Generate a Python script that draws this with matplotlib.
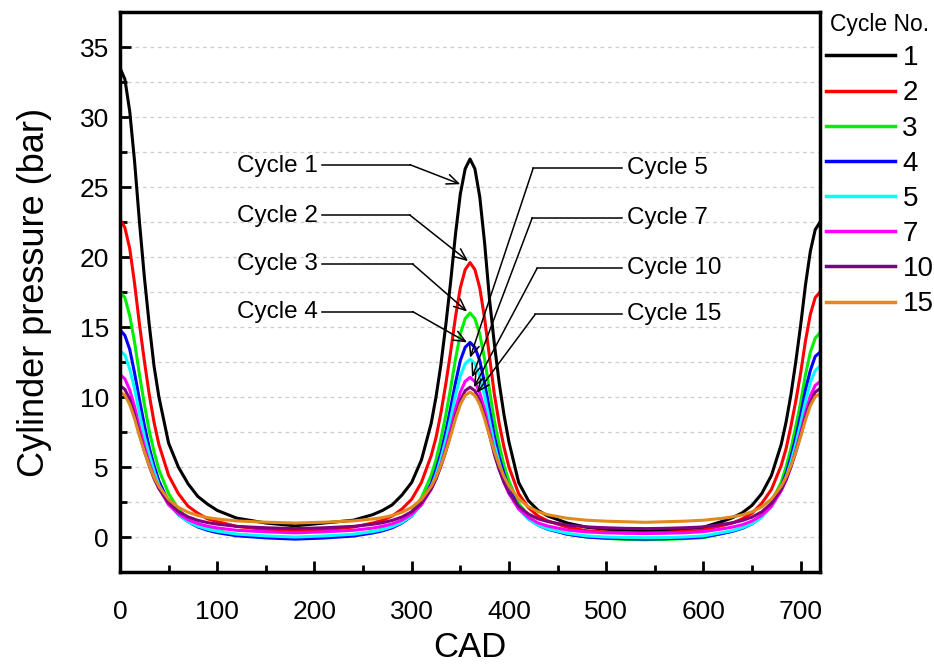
import matplotlib
matplotlib.use("Agg")
import matplotlib.pyplot as plt
from matplotlib.ticker import MultipleLocator

plt.rcParams["font.family"] = ["Liberation Sans", "DejaVu Sans"]

# crank angle (deg) and cylinder pressure (bar)
cad = [0, 5, 10, 15, 20, 25, 30, 35, 40, 50, 60, 70, 80, 90, 100, 120, 150, 180,
       210, 240, 260, 270, 280, 290, 300, 310, 320, 325, 330, 335, 340, 345, 350, 355, 360,
       365, 370, 375, 380, 385, 390, 395, 400, 410, 420, 430, 440, 460, 480, 500, 520, 540,
       560, 580, 600, 620, 630, 640, 650, 660, 670, 680, 685, 690, 695, 700, 705, 710, 715, 720]

p_cycle1 = [33.5, 32.7, 30.4, 26.8, 22.5, 18.6, 15.2, 12.2, 10.0, 6.7, 5.0, 3.8, 2.9, 2.35, 1.9, 1.35, 1.0, 0.8,
            1.0, 1.2, 1.6, 1.9, 2.3, 3.0, 3.9, 5.5, 8.1, 10.0, 12.3, 15.1, 18.2, 21.6, 24.5, 26.3, 27.0,
            26.3, 24.3, 21.0, 17.0, 13.8, 11.0, 8.7, 6.8, 3.9, 2.6, 1.9, 1.5, 1.0, 0.7, 0.55, 0.5, 0.45,
            0.5, 0.55, 0.7, 1.13, 1.38, 1.73, 2.26, 3.1, 4.4, 6.6, 8.2, 10.15, 12.5, 15.1, 18.0, 20.4, 21.95, 22.5]
p_cycle2 = [22.7, 22.1, 20.6, 18.1, 15.2, 12.6, 10.2, 8.2, 6.6, 4.4, 3.1, 2.2, 1.7, 1.3, 1.1, 0.76, 0.53, 0.4,
            0.52, 0.71, 1.0, 1.2, 1.5, 2.0, 2.7, 3.9, 5.8, 7.1, 8.85, 10.9, 13.2, 15.7, 17.8, 19.1, 19.6,
            19.1, 17.8, 15.6, 12.9, 10.2, 8.1, 6.4, 5.0, 3.1, 2.1, 1.5, 1.15, 0.7, 0.45, 0.35, 0.3, 0.3,
            0.32, 0.4, 0.5, 0.83, 1.0, 1.3, 1.7, 2.4, 3.4, 5.1, 6.3, 7.9, 9.7, 11.7, 14.0, 15.9, 17.1, 17.5]
p_cycle3 = [17.5, 17.1, 15.8, 13.9, 11.6, 9.5, 7.6, 6.1, 4.8, 3.1, 2.0, 1.3, 0.9, 0.64, 0.45, 0.18, 0.0, -0.1,
            0.0, 0.16, 0.4, 0.58, 0.83, 1.2, 1.8, 2.8, 4.4, 5.5, 7.0, 8.7, 10.6, 12.7, 14.5, 15.6, 16.0,
            15.6, 14.5, 12.7, 10.5, 8.3, 6.6, 5.1, 4.0, 2.4, 1.5, 0.95, 0.62, 0.2, 0.0, -0.1, -0.17, -0.2,
            -0.17, -0.12, -0.05, 0.26, 0.42, 0.66, 1.0, 1.6, 2.5, 3.9, 5.0, 6.3, 7.9, 9.6, 11.6, 13.2, 14.2, 14.6]
p_cycle4 = [14.8, 14.4, 13.4, 11.7, 9.8, 8.0, 6.4, 5.1, 4.0, 2.5, 1.6, 1.1, 0.72, 0.48, 0.31, 0.09, -0.06, -0.15,
            -0.07, 0.07, 0.29, 0.44, 0.66, 1.0, 1.5, 2.4, 3.8, 4.8, 6.0, 7.5, 9.2, 11.0, 12.6, 13.55, 13.9,
            13.55, 12.6, 11.0, 9.1, 7.2, 5.7, 4.5, 3.5, 2.1, 1.3, 0.85, 0.55, 0.2, 0.0, -0.08, -0.12, -0.15,
            -0.12, -0.08, 0.0, 0.26, 0.41, 0.62, 0.94, 1.45, 2.25, 3.6, 4.5, 5.7, 7.1, 8.7, 10.5, 11.9, 12.9, 13.2]
p_cycle5 = [13.3, 13.0, 12.0, 10.6, 8.8, 7.2, 5.9, 4.7, 3.7, 2.4, 1.6, 1.1, 0.77, 0.56, 0.41, 0.21, 0.08, 0.0,
            0.08, 0.2, 0.39, 0.53, 0.74, 1.04, 1.52, 2.29, 3.56, 4.45, 5.59, 6.92, 8.45, 10.1, 11.49, 12.38, 12.7,
            12.4, 11.5, 10.1, 8.3, 6.6, 5.3, 4.1, 3.2, 2.0, 1.3, 0.85, 0.58, 0.26, 0.08, 0.0, -0.03, -0.05,
            -0.04, 0.0, 0.08, 0.33, 0.46, 0.66, 0.95, 1.42, 2.16, 3.38, 4.24, 5.34, 6.63, 8.1, 9.69, 11.04, 11.89, 12.2]
p_cycle7 = [11.6, 11.3, 10.5, 9.3, 7.8, 6.5, 5.3, 4.3, 3.5, 2.3, 1.66, 1.23, 0.96, 0.77, 0.65, 0.48, 0.37, 0.3,
            0.37, 0.48, 0.64, 0.77, 0.94, 1.21, 1.63, 2.3, 3.41, 4.19, 5.18, 6.35, 7.68, 9.12, 10.35, 11.12, 11.4,
            11.1, 10.3, 9.1, 7.6, 6.1, 4.9, 3.9, 3.1, 2.0, 1.4, 1.0, 0.78, 0.5, 0.36, 0.3, 0.27, 0.25,
            0.27, 0.3, 0.38, 0.59, 0.71, 0.88, 1.14, 1.55, 2.2, 3.29, 4.05, 5.02, 6.16, 7.47, 8.88, 10.07, 10.83, 11.1]
p_cycle10 = [10.8, 10.55, 9.83, 8.71, 7.38, 6.16, 5.09, 4.17, 3.46, 2.44, 1.82, 1.44, 1.19, 1.03, 0.92, 0.76, 0.66, 0.6,
             0.66, 0.76, 0.91, 1.02, 1.19, 1.43, 1.81, 2.42, 3.43, 4.14, 5.04, 6.1, 7.32, 8.63, 9.74, 10.45, 10.7,
             10.45, 9.74, 8.63, 7.3, 5.9, 4.8, 3.9, 3.2, 2.2, 1.65, 1.3, 1.1, 0.85, 0.72, 0.66, 0.62, 0.6,
             0.62, 0.66, 0.72, 0.91, 1.02, 1.18, 1.42, 1.8, 2.4, 3.4, 4.1, 5.0, 6.05, 7.25, 8.55, 9.65, 10.35, 10.6]
p_cycle15 = [10.35, 10.12, 9.46, 8.43, 7.22, 6.1, 5.11, 4.27, 3.62, 2.68, 2.12, 1.77, 1.54, 1.39, 1.29, 1.15, 1.06, 1.0,
             1.06, 1.15, 1.29, 1.39, 1.54, 1.77, 2.12, 2.68, 3.62, 4.27, 5.11, 6.1, 7.22, 8.43, 9.46, 10.12, 10.35,
             10.12, 9.47, 8.44, 7.23, 6.12, 5.14, 4.31, 3.65, 2.72, 2.17, 1.81, 1.59, 1.34, 1.2, 1.13, 1.09, 1.05,
             1.09, 1.13, 1.2, 1.34, 1.44, 1.58, 1.8, 2.15, 2.71, 3.63, 4.27, 5.1, 6.06, 7.17, 8.36, 9.38, 10.02, 10.25]

cycle_labels = ["1", "2", "3", "4", "5", "7", "10", "15"]
pressures = [p_cycle1, p_cycle2, p_cycle3, p_cycle4, p_cycle5, p_cycle7, p_cycle10, p_cycle15]
colors = ["black", "#ff0000", "#00ee00", "#0000ff", "#00ffff", "#ff00ff", "#800080", "#e08a1e"]

fig = plt.figure(figsize=(9.34, 6.67), dpi=100)
ax = fig.add_axes([0.1285, 0.1424, 0.7495, 0.8396])

for p, c, lbl in zip(pressures, colors, cycle_labels):
    ax.plot(cad, p, color=c, lw=2.2, label=lbl)

ax.set_xlim(0, 720)
ax.set_ylim(-2.5, 37.5)
ax.xaxis.set_major_locator(MultipleLocator(100))
ax.xaxis.set_minor_locator(MultipleLocator(50))
ax.yaxis.set_major_locator(MultipleLocator(5))
ax.yaxis.set_minor_locator(MultipleLocator(2.5))
ax.tick_params(which="both", direction="in", top=False, right=False, width=2)
ax.tick_params(which="major", length=8, labelsize=19)
ax.tick_params(which="minor", length=5)
ax.tick_params(axis="x", pad=20)
ax.tick_params(axis="y", pad=8)
ax.grid(axis="y", which="both", ls=(0, (3, 3)), color="#cccccc", lw=0.9)
ax.set_axisbelow(True)
for s in ax.spines.values():
    s.set_linewidth(2.5)

ax.set_xlabel("CAD", fontsize=25)
ax.set_ylabel("Cylinder pressure (bar)", fontsize=26)
ax.xaxis.set_label_coords(0.5, -0.106)
ax.yaxis.set_label_coords(-0.097, 0.5)

# callouts: label text, text anchor, elbow of leader, arrow tip
left_notes = [("Cycle 1", 26.5, (298, 26.6), (350, 25.2)),
              ("Cycle 2", 22.9, (298, 23.0), (358, 19.7)),
              ("Cycle 3", 19.5, (301, 19.5), (357, 16.1)),
              ("Cycle 4", 16.1, (301, 16.1), (357, 13.9))]
right_notes = [("Cycle 5", 26.35, (425, 26.35), (360, 12.8)),
               ("Cycle 7", 22.8, (424, 22.8), (362, 11.4)),
               ("Cycle 10", 19.2, (429, 19.2), (364, 10.7)),
               ("Cycle 15", 15.9, (427, 15.9), (367, 10.3))]
arrow = dict(arrowstyle="->,head_length=0.7,head_width=0.3", lw=1.1, color="black",
             mutation_scale=12, shrinkA=0, shrinkB=0)

for txt, y, elbow, tip in left_notes:
    ax.text(204, y, txt, fontsize=17.5, ha="right", va="center")
    ax.plot([208, elbow[0]], [elbow[1], elbow[1]], color="black", lw=1.1)
    ax.annotate("", xy=tip, xytext=elbow, arrowprops=arrow)

for txt, y, elbow, tip in right_notes:
    ax.text(521, y, txt, fontsize=17.5, ha="left", va="center")
    ax.plot([elbow[0], 516], [elbow[1], elbow[1]], color="black", lw=1.1)
    ax.annotate("", xy=tip, xytext=elbow, arrowprops=arrow)

leg = ax.legend(title="Cycle No.", loc="upper left", bbox_to_anchor=(826 / 934, 1 - 13 / 667),
                bbox_transform=fig.transFigure, frameon=False, fontsize=20,
                title_fontsize=16.5, handlelength=2.5, handletextpad=0.25,
                labelspacing=0.33, borderpad=0, borderaxespad=0)
for line in leg.get_lines():
    line.set_linewidth(2.5)

fig.savefig("out.png", dpi=100)
